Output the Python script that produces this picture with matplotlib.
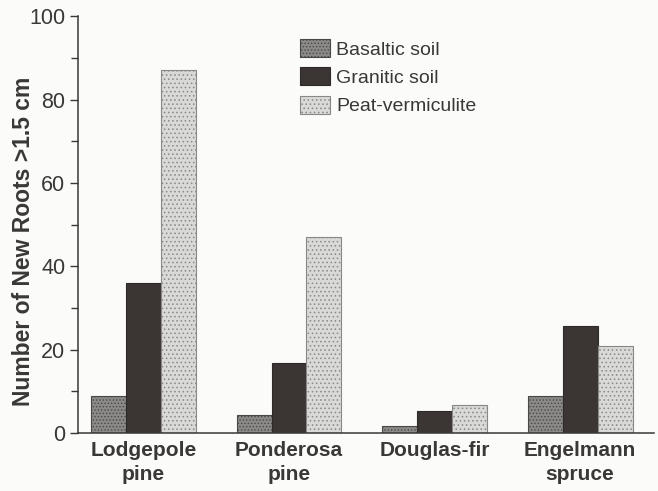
import numpy as np
import matplotlib.pyplot as plt
from matplotlib.ticker import MultipleLocator

plt.rcParams['font.family'] = ['Liberation Sans', 'DejaVu Sans']
plt.rcParams['hatch.linewidth'] = 0.6

# data
species = ['Lodgepole\npine', 'Ponderosa\npine', 'Douglas-fir', 'Engelmann\nspruce']
basaltic = [9, 4.3, 1.8, 9]
granitic = [36, 16.8, 5.3, 25.7]
peat = [87, 47, 6.7, 21]
series_names = ['Basaltic soil', 'Granitic soil', 'Peat-vermiculite']

ink = '#3a3836'
bg = '#fbfbf9'

fig = plt.figure(figsize=(6.58, 4.91), dpi=100, facecolor=bg)
ax = fig.add_axes([0.1185, 0.118, 0.876, 0.849], facecolor=bg)

x = np.arange(len(species))
w = 0.24
styles = [
    dict(facecolor='#8c8a88', edgecolor='#4a4846', hatch='.....'),
    dict(facecolor='#3b3633', edgecolor='#2e2a28', hatch=None),
    dict(facecolor='#d9d9d7', edgecolor='#8a8886', hatch='....'),
]
for i, (vals, name, st) in enumerate(zip([basaltic, granitic, peat], series_names, styles)):
    ax.bar(x + (i - 1) * w, vals, w, label=name, linewidth=0.8, **st)

ax.set_xlim(-0.45, 3.51)
ax.set_ylim(0, 100)
ax.yaxis.set_major_locator(MultipleLocator(20))
ax.yaxis.set_minor_locator(MultipleLocator(10))
ax.tick_params(axis='y', which='major', length=6, width=1, color=ink, labelsize=15.5, labelcolor=ink, pad=3)
ax.tick_params(axis='y', which='minor', length=5, width=1, color=ink)
ax.set_xticks(x)
ax.set_xticklabels(species, fontsize=15, fontweight='bold', color=ink, linespacing=1.3)
ax.tick_params(axis='x', length=0, pad=6)

for s in ['top', 'right']:
    ax.spines[s].set_visible(False)
for s in ['left', 'bottom']:
    ax.spines[s].set_color(ink)
    ax.spines[s].set_linewidth(1.1)

ax.set_ylabel('Number of New Roots >1.5 cm', fontsize=16.5, fontweight='bold', color=ink)
ax.yaxis.set_label_coords(-0.074, 0.46)

leg = ax.legend(loc='upper left', bbox_to_anchor=(300 / 658, 1 - 39 / 491),
                bbox_transform=fig.transFigure, frameon=False, borderpad=0, borderaxespad=0,
                fontsize=14, handlelength=1.55, handleheight=1.03, labelspacing=0.46,
                handletextpad=0.3)
for t in leg.get_texts():
    t.set_color(ink)

fig.savefig('out.png', dpi=100, facecolor=bg)
